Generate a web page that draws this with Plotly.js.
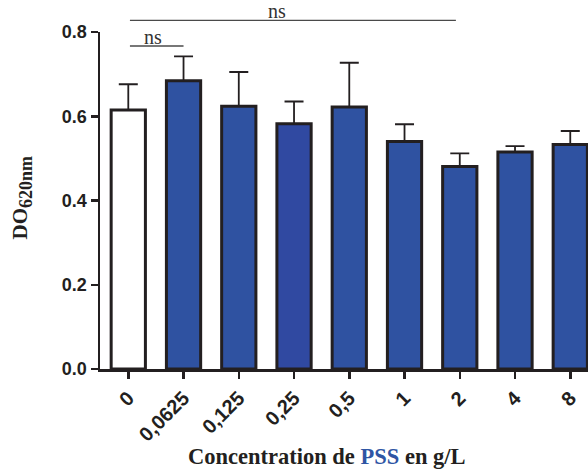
<!DOCTYPE html>
<html>
<head>
<meta charset="utf-8">
<script src="https://cdn.plot.ly/plotly-3.0.1.min.js"></script>
<style>html,body{margin:0;padding:0;background:#fff;}</style>
</head>
<body>
<div id="chart" style="width:588px;height:470px;"></div>
<script>
// Data
const categories = ["0", "0,0625", "0,125", "0,25", "0,5", "1", "2", "4", "8"];
const values     = [0.615, 0.684, 0.624, 0.582, 0.622, 0.540, 0.481, 0.515, 0.533];
const errorsUp   = [0.061, 0.058, 0.081, 0.053, 0.105, 0.041, 0.031, 0.014, 0.032];
const barColors  = ["#ffffff", "#2f52a1", "#2f52a1", "#3049a1", "#2f52a1", "#2f52a1", "#2f52a1", "#2f52a1", "#2f52a1"];
const yTicks     = [0, 0.2, 0.4, 0.6, 0.8];
// significance brackets: [start index, end index, label position, label]
const sigStart   = [0.03, 0.03];
const sigEnd     = [5.93, 1.0];
const sigLabelX  = [2.69, 0.45];
const sigLabels  = ["ns", "ns"];
const sigLevel   = [1.0347, 0.9585];

const dark = "#231f20";

const trace = {
  type: "bar",
  x: categories.map((c, i) => i),
  y: values,
  marker: { color: barColors, line: { color: dark, width: 3 } },
  error_y: {
    type: "data", symmetric: false, array: errorsUp,
    arrayminus: errorsUp.map(() => 0),
    color: dark, thickness: 1.8, width: 9.5
  },
  hoverinfo: "skip"
};

const shapes = sigStart.map((s, i) => ({
  type: "line", xref: "x", yref: "paper",
  x0: s, x1: sigEnd[i], y0: sigLevel[i], y1: sigLevel[i],
  line: { color: "#4a4a4a", width: 1.3 }
}));

const annotations = sigLabels.map((t, i) => ({
  text: t, xref: "x", yref: "paper", x: sigLabelX[i], y: sigLevel[i],
  xanchor: "center", yanchor: "bottom", showarrow: false, yshift: -4,
  font: { family: "Liberation Serif", size: 20, color: "#333" }
}));

annotations.push({
  text: "Concentration de <span style='color:#2f55a4'>PSS</span> en g/L",
  xref: "paper", yref: "paper", x: 0.466, y: -0.26,
  xanchor: "center", yanchor: "middle", showarrow: false,
  font: { family: "Liberation Serif", size: 22.5, color: dark, weight: "bold" }
});
annotations.push({
  text: "DO<sub><span style='font-size:18px'>620nm</span></sub>",
  xref: "paper", yref: "paper", x: -0.16, y: 0.509,
  xanchor: "center", yanchor: "middle", showarrow: false, textangle: -90,
  font: { family: "Liberation Serif", size: 21, color: dark, weight: "bold" }
});

const layout = {
  width: 588, height: 470,
  margin: { l: 100, r: 0, t: 32, b: 101 },
  paper_bgcolor: "#fff", plot_bgcolor: "#fff",
  showlegend: false,
  bargap: 0.38,
  xaxis: {
    type: "linear",
    range: [-0.512, 8.321],
    tickmode: "array", tickvals: categories.map((c, i) => i), ticktext: categories,
    tickangle: -45,
    ticks: "outside", ticklen: 7, tickwidth: 2.5, tickcolor: dark,
    showline: true, linecolor: dark, linewidth: 2.5,
    showgrid: false, zeroline: false,
    tickfont: { family: "Liberation Sans", size: 20, color: dark, weight: "bold" },
    automargin: false
  },
  yaxis: {
    range: [0, 0.8],
    tickmode: "array", tickvals: yTicks, ticktext: yTicks.map(v => v.toFixed(1)),
    ticks: "outside", ticklen: 7, tickwidth: 2.5, tickcolor: dark,
    showline: true, linecolor: dark, linewidth: 2.5,
    showgrid: false, zeroline: false,
    tickfont: { family: "Liberation Sans", size: 18, color: dark, weight: "bold" },
    automargin: false
  },
  shapes: shapes,
  annotations: annotations
};

Plotly.newPlot("chart", [trace], layout, { displayModeBar: false, staticPlot: true });
</script>
</body>
</html>
